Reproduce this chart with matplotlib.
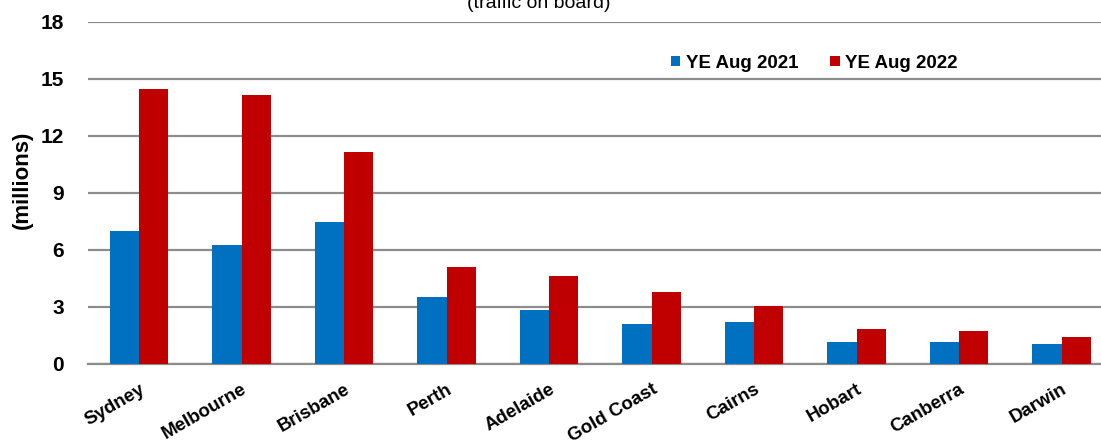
import numpy as np
import matplotlib
matplotlib.use("Agg")
from matplotlib import pyplot as plt

# airports and passenger numbers (millions)
airports = ["Sydney", "Melbourne", "Brisbane", "Perth", "Adelaide",
            "Gold Coast", "Cairns", "Hobart", "Canberra", "Darwin"]
ye_2021 = [7.0, 6.26, 7.47, 3.53, 2.84, 2.1, 2.2, 1.16, 1.16, 1.05]
ye_2022 = [14.47, 14.16, 11.16, 5.1, 4.63, 3.79, 3.05, 1.84, 1.74, 1.42]
yticks = [0, 3, 6, 9, 12, 15, 18]

plt.rcParams['font.family'] = ['Liberation Sans', 'DejaVu Sans']

fig = plt.figure(figsize=(11.01, 4.42), dpi=100)
ax = fig.add_axes([0.0797, 0.1765, 0.931, 0.7738])

x = np.arange(len(airports))
w = 0.285
ax.bar(x - w / 2, ye_2021, w, color='#0070C0', label='YE Aug 2021', zorder=3)
ax.bar(x + w / 2, ye_2022, w, color='#C00000', label='YE Aug 2022', zorder=3)

ax.set_xlim(-0.5, len(airports) - 0.5)
ax.set_ylim(0, 18)
ax.set_yticks(yticks)
ax.set_yticklabels([str(t) for t in yticks], fontsize=15, fontweight='bold')
ax.yaxis.grid(True, color='#8c8c8c', linewidth=1.6, zorder=0)
ax.set_axisbelow(True)

ax.set_xticks(x)
ax.set_xticklabels(airports, rotation=30, ha='right', rotation_mode='anchor',
                   fontsize=13.5, fontweight='bold')
ax.tick_params(axis='both', length=0)
ax.tick_params(axis='y', pad=17)
ax.tick_params(axis='x', pad=12)

for s in ['top', 'right', 'left']:
    ax.spines[s].set_visible(False)
ax.spines['bottom'].set_color('#8c8c8c')
ax.spines['bottom'].set_linewidth(1.6)

ax.set_ylabel('(millions)', fontsize=16, fontweight='bold', va='center')
ax.yaxis.set_label_coords(-0.064, 0.538)

fig.text(0.489, 0.993, '(traffic on board)', ha='center', va='center', fontsize=14)

leg = ax.legend(loc='center', bbox_to_anchor=(0.709, 0.88), ncol=2, frameon=False,
                prop={'size': 13.5, 'weight': 'bold'}, handlelength=0.5,
                handleheight=0.5, handletextpad=0.3, columnspacing=1.7)

plt.savefig("out.png", dpi=100)
